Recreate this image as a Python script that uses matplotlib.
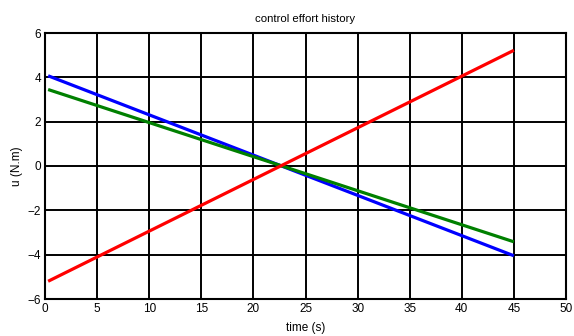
import numpy as np
import matplotlib.pyplot as plt

plt.rcParams['font.family'] = ['Liberation Sans', 'DejaVu Sans']

# time samples and control effort for the three joints
t = [0.3, 45.0]
u_blue = [4.07, -4.05]
u_green = [3.45, -3.42]
u_red = [-5.2, 5.22]

xticks = [0, 5, 10, 15, 20, 25, 30, 35, 40, 45, 50]
yticks = [-6, -4, -2, 0, 2, 4, 6]

fig = plt.figure(figsize=(5.74, 3.36), dpi=100)
ax = fig.add_axes([45 / 574, 1 - 299 / 336, 521 / 574, 266 / 336])

ax.plot(t, u_blue, color='#0000ff', lw=2.3, solid_capstyle='butt')
ax.plot(t, u_green, color='#008000', lw=2.3, solid_capstyle='butt')
ax.plot(t, u_red, color='#ff0000', lw=2.3, solid_capstyle='butt')

ax.set_xlim(0, 50)
ax.set_ylim(-6, 6)
ax.set_xticks(xticks)
ax.set_yticks(yticks)
ax.grid(True, color='black', linestyle='-', linewidth=1.4)
ax.set_axisbelow(True)
for s in ax.spines.values():
    s.set_linewidth(1.5)
ax.tick_params(length=0, labelsize=8.5, pad=3)

ax.set_title('control effort history', fontsize=8.2, pad=8)
ax.set_xlabel('time (s)', fontsize=8.5, labelpad=5)
ax.set_ylabel('u (N.m)', fontsize=8.5, labelpad=3)

fig.savefig('out.png', dpi=100)
